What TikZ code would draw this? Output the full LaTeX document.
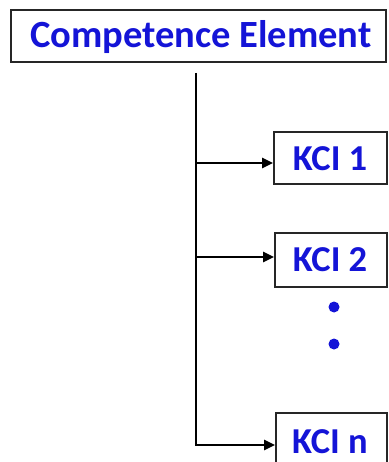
\documentclass[tikz,border=0pt]{standalone}
\usepackage{fontspec}
\setmainfont{Carlito}
\usetikzlibrary{arrows.meta}
\definecolor{kblue}{RGB}{20,20,215}
\begin{document}
\begin{tikzpicture}[x=1pt,y=-1pt,
  box/.style={draw=black!85,line width=1.8pt,fill=white,inner sep=0pt},
  lbl/.style={text=kblue,font=\bfseries},
  conn/.style={line width=2.6pt,black},
  arr/.style={conn,-{Triangle[length=11pt,width=10pt]}},
  dot/.style={circle,fill=kblue,inner sep=0pt,minimum size=11pt}]
\useasboundingbox (0,0) rectangle (388,462);
\clip (0,0) rectangle (388,462);
\node[box,minimum width=375pt,minimum height=52pt] (ce) at (198.5,36) {};
\node[lbl,font=\bfseries\fontsize{38.5}{40}\selectfont] (cet) at (201,37) {Competence Element};
\node[box,minimum width=113pt,minimum height=52pt] (k1) at (330.5,158) {};
\node[lbl,font=\bfseries\fontsize{36.5}{40}\selectfont] (k1t) at (330,159) {KCI 1};
\node[box,minimum width=112pt,minimum height=54pt] (k2) at (331,260) {};
\node[lbl,font=\bfseries\fontsize{36.5}{40}\selectfont] (k2t) at (330,260) {KCI 2};
\node[box,minimum width=111pt,minimum height=64pt] (kn) at (331.5,445) {};
\node[lbl,font=\bfseries\fontsize{36.5}{40}\selectfont] (knt) at (330,442) {KCI n};
\node[dot] (d1) at (334,307) {};
\node[dot] (d2) at (334,344) {};
\coordinate (v) at (196,73);
\draw[arr] (v) |- (kn.west);
\draw[arr] (v |- 0,163) -- (k1.west |- 0,163);
\draw[arr] (v |- 0,257) -- (k2.west |- 0,257);
\end{tikzpicture}
\end{document}
